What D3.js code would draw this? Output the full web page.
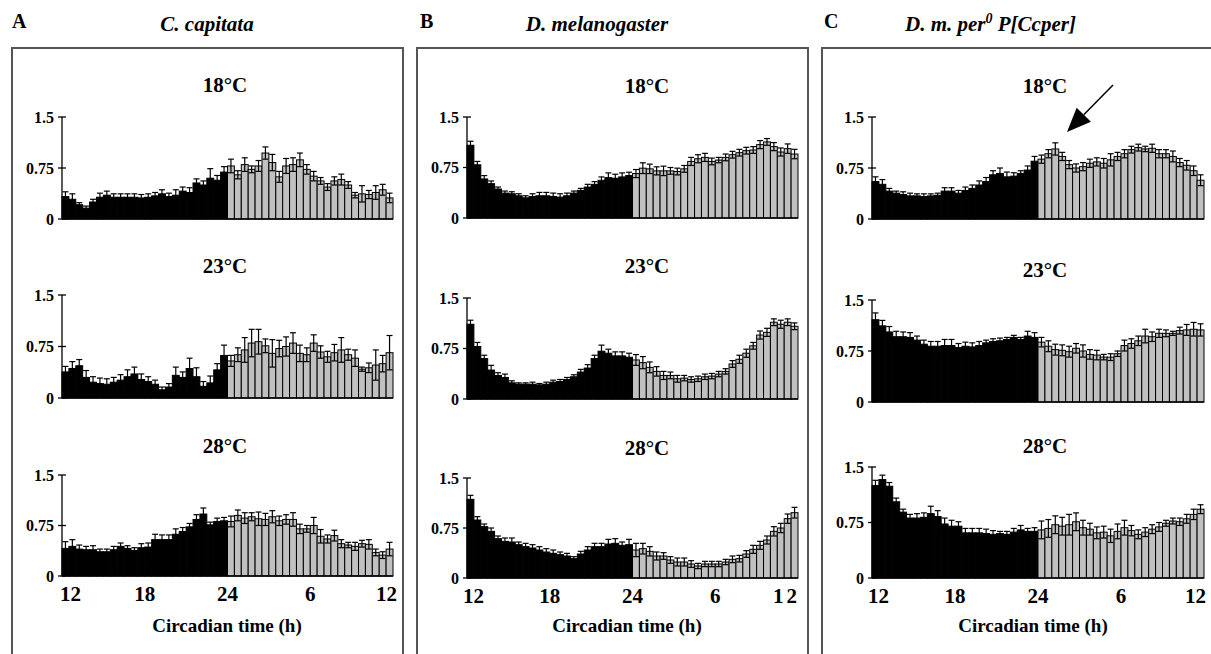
<!DOCTYPE html>
<html><head><meta charset="utf-8">
<script src="https://cdn.jsdelivr.net/npm/d3@7/dist/d3.min.js"></script>
<style>
body{margin:0;background:#fff}
svg{display:block}
text{font-family:"Liberation Serif","Times New Roman",serif;font-weight:bold;fill:#000}
</style>
</head><body>
<svg id="chart" width="1211" height="654"></svg>
<script>
// ---------- DATA ----------
const temps = ["18°C", "23°C", "28°C"];
const panelLetters = ["A", "B", "C"];
const xTickValues = [0, 6, 12, 18, 24];          // hours after CT12
const xTickLabels = ["12", "18", "24", "6", "12"];
const yTickValues = [0, 0.75, 1.5];
const yTickLabels = ["0", "0.75", "1.5"];
const nightBins = 24; // first 24 half-hour bins (CT12-24) drawn black

// C. capitata
const capitata18 = [0.33,0.29,0.21,0.16,0.25,0.32,0.35,0.32,0.32,0.32,0.32,0.31,0.32,0.34,0.37,0.33,0.35,0.41,0.39,0.53,0.50,0.60,0.57,0.69,
  0.78,0.65,0.80,0.73,0.78,0.97,0.83,0.62,0.78,0.80,0.87,0.73,0.63,0.56,0.47,0.56,0.58,0.50,0.35,0.37,0.36,0.39,0.43,0.31];
const capitata18Err = [0.07,0.08,0.03,0.03,0.04,0.06,0.06,0.05,0.05,0.05,0.05,0.05,0.05,0.05,0.06,0.05,0.08,0.06,0.07,0.06,0.06,0.14,0.07,0.08,
  0.10,0.06,0.10,0.05,0.08,0.09,0.12,0.08,0.11,0.10,0.10,0.07,0.07,0.05,0.05,0.06,0.08,0.05,0.04,0.12,0.06,0.10,0.08,0.07];
const capitata23 = [0.38,0.43,0.47,0.30,0.23,0.21,0.20,0.23,0.26,0.31,0.35,0.27,0.24,0.20,0.12,0.16,0.33,0.30,0.43,0.31,0.17,0.22,0.41,0.62,
  0.54,0.63,0.70,0.80,0.82,0.76,0.65,0.72,0.75,0.80,0.65,0.63,0.80,0.67,0.60,0.66,0.70,0.63,0.58,0.42,0.44,0.48,0.50,0.66];
const capitata23Err = [0.08,0.10,0.09,0.10,0.08,0.08,0.08,0.07,0.08,0.10,0.10,0.08,0.07,0.06,0.04,0.05,0.12,0.08,0.15,0.13,0.07,0.10,0.09,0.15,
  0.08,0.10,0.18,0.20,0.18,0.10,0.20,0.12,0.14,0.15,0.12,0.10,0.12,0.09,0.08,0.12,0.18,0.08,0.12,0.03,0.07,0.22,0.12,0.25];
const capitata28 = [0.41,0.44,0.40,0.39,0.39,0.36,0.36,0.39,0.44,0.41,0.38,0.42,0.43,0.54,0.54,0.54,0.62,0.66,0.73,0.84,0.92,0.76,0.81,0.82,
  0.81,0.90,0.86,0.88,0.85,0.84,0.88,0.82,0.84,0.84,0.70,0.70,0.75,0.59,0.55,0.60,0.48,0.46,0.44,0.48,0.47,0.35,0.31,0.40];
const capitata28Err = [0.10,0.10,0.06,0.05,0.06,0.04,0.04,0.05,0.05,0.04,0.04,0.06,0.06,0.08,0.07,0.07,0.08,0.06,0.05,0.07,0.09,0.04,0.05,0.05,
  0.08,0.08,0.08,0.06,0.10,0.09,0.09,0.07,0.07,0.10,0.07,0.05,0.12,0.10,0.06,0.08,0.06,0.04,0.06,0.05,0.07,0.05,0.05,0.10];

// D. melanogaster
const melano18 = [1.08,0.79,0.58,0.51,0.43,0.37,0.36,0.33,0.30,0.32,0.33,0.33,0.32,0.31,0.33,0.37,0.41,0.46,0.50,0.56,0.60,0.59,0.61,0.63,
  0.66,0.74,0.73,0.70,0.70,0.70,0.69,0.73,0.84,0.88,0.90,0.84,0.86,0.90,0.94,0.97,1.00,1.01,1.09,1.13,1.06,0.98,1.03,0.95];
const melano18Err = [0.06,0.05,0.05,0.04,0.03,0.03,0.03,0.03,0.03,0.04,0.05,0.05,0.05,0.05,0.04,0.03,0.03,0.04,0.04,0.05,0.07,0.06,0.06,0.05,
  0.06,0.08,0.07,0.06,0.07,0.05,0.05,0.05,0.06,0.06,0.06,0.05,0.04,0.05,0.05,0.05,0.05,0.05,0.06,0.05,0.06,0.06,0.07,0.07];
const melano23 = [1.11,0.78,0.60,0.43,0.35,0.32,0.24,0.22,0.22,0.22,0.21,0.22,0.25,0.26,0.29,0.33,0.40,0.46,0.60,0.71,0.68,0.64,0.64,0.62,
  0.58,0.54,0.47,0.41,0.35,0.35,0.30,0.31,0.29,0.30,0.33,0.34,0.37,0.41,0.52,0.59,0.68,0.79,0.95,0.99,1.14,1.11,1.14,1.08];
const melano23Err = [0.06,0.06,0.05,0.07,0.04,0.05,0.03,0.02,0.02,0.03,0.02,0.03,0.03,0.03,0.03,0.03,0.04,0.05,0.05,0.09,0.06,0.06,0.06,0.06,
  0.08,0.09,0.08,0.07,0.06,0.05,0.05,0.04,0.04,0.04,0.04,0.04,0.04,0.04,0.05,0.06,0.06,0.05,0.06,0.06,0.05,0.06,0.05,0.05];
const melano28 = [1.18,0.87,0.77,0.70,0.59,0.55,0.54,0.50,0.47,0.45,0.42,0.39,0.37,0.35,0.33,0.29,0.36,0.42,0.47,0.47,0.51,0.52,0.49,0.50,
  0.42,0.44,0.40,0.33,0.33,0.27,0.24,0.24,0.21,0.18,0.21,0.21,0.21,0.24,0.28,0.29,0.36,0.43,0.49,0.57,0.70,0.75,0.89,0.98];
const melano28Err = [0.06,0.05,0.04,0.05,0.04,0.05,0.06,0.04,0.05,0.05,0.05,0.05,0.05,0.04,0.04,0.03,0.04,0.05,0.05,0.05,0.07,0.07,0.05,0.08,
  0.10,0.08,0.07,0.06,0.05,0.05,0.06,0.06,0.05,0.04,0.04,0.04,0.04,0.04,0.05,0.05,0.05,0.06,0.06,0.06,0.07,0.07,0.07,0.08];

// D. m. per0 P[Ccper]
const transgenic18 = [0.55,0.51,0.41,0.38,0.36,0.34,0.34,0.33,0.34,0.35,0.41,0.41,0.38,0.42,0.45,0.50,0.55,0.65,0.67,0.62,0.63,0.67,0.72,0.85,
  0.88,0.96,1.03,0.92,0.80,0.75,0.77,0.82,0.84,0.82,0.87,0.92,0.96,1.02,1.05,1.03,1.04,0.96,0.96,0.92,0.83,0.79,0.71,0.57];
const transgenic18Err = [0.07,0.07,0.04,0.03,0.04,0.04,0.03,0.04,0.03,0.03,0.05,0.05,0.04,0.05,0.05,0.06,0.06,0.06,0.08,0.07,0.05,0.04,0.06,0.07,
  0.06,0.06,0.09,0.06,0.06,0.06,0.06,0.06,0.06,0.07,0.09,0.06,0.06,0.05,0.05,0.04,0.06,0.06,0.06,0.08,0.06,0.07,0.07,0.08];
const transgenic23 = [1.21,1.12,1.03,0.96,0.96,0.95,0.91,0.85,0.82,0.82,0.83,0.83,0.80,0.82,0.81,0.83,0.87,0.89,0.90,0.92,0.95,0.92,0.97,0.95,
  0.88,0.82,0.77,0.76,0.74,0.79,0.75,0.70,0.69,0.66,0.66,0.71,0.83,0.86,0.90,0.97,0.96,1.01,1.01,1.01,1.05,1.06,1.07,1.06];
const transgenic23Err = [0.10,0.08,0.08,0.08,0.07,0.07,0.06,0.06,0.07,0.07,0.09,0.09,0.06,0.06,0.06,0.06,0.04,0.04,0.04,0.03,0.03,0.03,0.07,0.07,
  0.07,0.08,0.08,0.08,0.08,0.07,0.09,0.07,0.07,0.04,0.05,0.04,0.08,0.07,0.07,0.10,0.07,0.06,0.05,0.03,0.05,0.08,0.10,0.09];
const transgenic28 = [1.25,1.33,1.24,1.03,0.89,0.81,0.81,0.82,0.87,0.83,0.73,0.70,0.70,0.61,0.61,0.61,0.60,0.59,0.60,0.59,0.62,0.65,0.63,0.63,
  0.65,0.67,0.72,0.70,0.72,0.76,0.68,0.66,0.61,0.62,0.57,0.63,0.68,0.64,0.59,0.62,0.66,0.69,0.74,0.77,0.76,0.80,0.86,0.93];
const transgenic28Err = [0.07,0.06,0.05,0.05,0.04,0.05,0.06,0.06,0.10,0.08,0.08,0.08,0.06,0.06,0.06,0.06,0.06,0.05,0.03,0.04,0.05,0.06,0.04,0.05,
  0.12,0.12,0.12,0.12,0.14,0.12,0.10,0.08,0.08,0.08,0.09,0.10,0.10,0.07,0.06,0.06,0.06,0.06,0.04,0.04,0.05,0.06,0.07,0.06];

const seriesByColumn = [
  [[capitata18, capitata18Err], [capitata23, capitata23Err], [capitata28, capitata28Err]],
  [[melano18, melano18Err], [melano23, melano23Err], [melano28, melano28Err]],
  [[transgenic18, transgenic18Err], [transgenic23, transgenic23Err], [transgenic28, transgenic28Err]]
];

// ---------- LAYOUT ----------
const layout = [
  { box: [12, 403], x0: 62, x1: 393, letterX: 12, titleX: 207, rows: [[219, 117], [398, 295], [576, 475]],
    subX: 225, subY: [92, 273, 453], axisTitleX: 227, firstOff: -2, lastOff: 4, lastSpacing: 0 },
  { box: [417, 808], x0: 467, x1: 798, letterX: 420, titleX: 597, rows: [[218, 117], [399, 298], [578, 478]],
    subX: 647, subY: [93, 273, 455], axisTitleX: 627, firstOff: -4, lastOff: 2, lastSpacing: 3 },
  { box: [822, 1216], x0: 872, x1: 1204, letterX: 824, titleX: 905, rows: [[219, 117], [402, 300], [578, 467]],
    subX: 1045, subY: [93, 277, 453], axisTitleX: 1033, firstOff: -4, lastOff: 2, lastSpacing: 0 }
];

const svg = d3.select("#chart");

layout.forEach((L, ci) => {
  // panel box
  svg.append("rect").attr("x", L.box[0]).attr("y", 48)
    .attr("width", L.box[1] - L.box[0]).attr("height", 620)
    .attr("fill", "none").attr("stroke", "#555").attr("stroke-width", 2);

  // panel letter
  svg.append("text").attr("x", L.letterX).attr("y", 28).attr("font-size", 20).text(panelLetters[ci]);

  // species title
  const t = svg.append("text").attr("y", 31).attr("font-size", 21).attr("font-style", "italic");
  if (ci === 0) t.attr("x", L.titleX).attr("text-anchor", "middle").text("C. capitata");
  else if (ci === 1) t.attr("x", L.titleX).attr("text-anchor", "middle").text("D. melanogaster");
  else {
    t.attr("x", L.titleX).attr("text-anchor", "start");
    t.append("tspan").text("D. m. per");
    t.append("tspan").attr("font-size", 14).attr("dy", -8).text("0");
    t.append("tspan").attr("dy", 8).text(" P[Ccper]");
  }

  const xBand = d3.scaleBand().domain(d3.range(48)).range([L.x0, L.x1]).padding(0);
  const xTime = d3.scaleLinear().domain([0, 24]).range([L.x0, L.x1]);

  L.rows.forEach(([yb, yt], ri) => {
    const [vals, errs] = seriesByColumn[ci][ri];
    const y = d3.scaleLinear().domain([0, 1.5]).range([yb, yt]);
    const g = svg.append("g");

    // temperature label
    g.append("text").attr("x", L.subX).attr("y", L.subY[ri]).attr("text-anchor", "middle")
      .attr("font-size", 21).text(temps[ri]);

    // bars
    g.selectAll("rect.bar").data(vals).join("rect").attr("class", "bar")
      .attr("x", (d, i) => xBand(i)).attr("width", xBand.bandwidth())
      .attr("y", d => y(d)).attr("height", d => y(0) - y(d))
      .attr("fill", (d, i) => i < nightBins ? "#000" : "#c0c0c0")
      .attr("stroke", "#000").attr("stroke-width", 1);

    // error bars
    const cap = 3;
    const eb = g.selectAll("g.err").data(vals).join("g").attr("class", "err");
    const cx = (i) => xBand(i) + xBand.bandwidth() / 2;
    eb.append("line")
      .attr("x1", (d, i) => cx(i)).attr("x2", (d, i) => cx(i))
      .attr("y1", (d, i) => y(d + errs[i])).attr("y2", (d, i) => y(Math.max(0, d - errs[i])))
      .attr("stroke", "#000").attr("stroke-width", 1.2);
    eb.append("line")
      .attr("x1", (d, i) => cx(i) - cap).attr("x2", (d, i) => cx(i) + cap)
      .attr("y1", (d, i) => y(d + errs[i])).attr("y2", (d, i) => y(d + errs[i]))
      .attr("stroke", "#000").attr("stroke-width", 1.2);
    eb.append("line")
      .attr("x1", (d, i) => cx(i) - cap).attr("x2", (d, i) => cx(i) + cap)
      .attr("y1", (d, i) => y(Math.max(0, d - errs[i]))).attr("y2", (d, i) => y(Math.max(0, d - errs[i])))
      .attr("stroke", "#000").attr("stroke-width", 1.2);

    // axes
    g.append("line").attr("x1", L.x0).attr("x2", L.x0).attr("y1", y(0)).attr("y2", y(1.5))
      .attr("stroke", "#000").attr("stroke-width", 1.3);
    g.append("line").attr("x1", L.x0).attr("x2", L.x1).attr("y1", y(0)).attr("y2", y(0))
      .attr("stroke", "#000").attr("stroke-width", 1.3);
    yTickValues.forEach((v, k) => {
      g.append("line").attr("x1", L.x0 - 4).attr("x2", L.x0 + 4).attr("y1", y(v)).attr("y2", y(v))
        .attr("stroke", "#000").attr("stroke-width", 1.3);
      g.append("text").attr("x", L.x0 - 8).attr("y", y(v)).attr("dy", "0.35em")
        .attr("text-anchor", "end").attr("font-size", 16).text(yTickLabels[k]);
    });

    // x tick labels & title on last row only
    if (ri === 2) {
      xTickValues.forEach((v, k) => {
        const last = k === xTickValues.length - 1, first = k === 0;
        const tx = g.append("text").attr("y", yb + 25).attr("font-size", 21)
          .attr("x", xTime(v) + (first ? L.firstOff : last ? L.lastOff : 0))
          .attr("text-anchor", first ? "start" : last ? "end" : "middle")
          .text(xTickLabels[k]);
        if (last && L.lastSpacing) tx.attr("letter-spacing", L.lastSpacing);
      });
      g.append("text").attr("x", L.axisTitleX).attr("y", 632).attr("text-anchor", "middle")
        .attr("font-size", 19).text("Circadian time (h)");
    }
  });
});

// arrow in panel C, 18°C
const arrowFrom = [1113, 85], arrowTo = [1067, 132];
(function () {
  const dx = arrowTo[0] - arrowFrom[0], dy = arrowTo[1] - arrowFrom[1];
  const len = Math.hypot(dx, dy), ux = dx / len, uy = dy / len;
  const headL = 24, headW = 10;
  const bx = arrowTo[0] - ux * headL, by = arrowTo[1] - uy * headL;
  svg.append("line").attr("x1", arrowFrom[0]).attr("y1", arrowFrom[1]).attr("x2", bx).attr("y2", by)
    .attr("stroke", "#000").attr("stroke-width", 1.5);
  svg.append("polygon")
    .attr("points", [[arrowTo[0], arrowTo[1]], [bx - uy * headW, by + ux * headW], [bx + uy * headW, by - ux * headW]].map(p => p.join(",")).join(" "))
    .attr("fill", "#000");
})();
</script>
</body></html>
